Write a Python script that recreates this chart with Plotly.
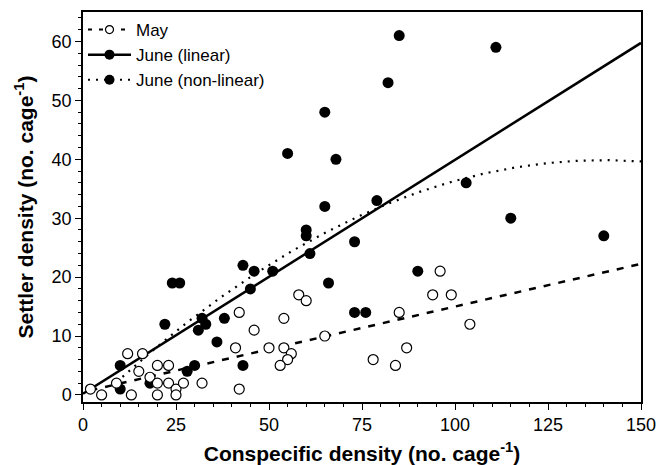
import numpy as np
import plotly.graph_objects as go

# ---- data ----
may_x = [2, 5, 9, 12, 13, 15, 16, 18, 20, 20, 20, 23, 23, 25, 25, 27, 32, 41, 42, 42,
         46, 50, 54, 54, 56, 55, 53, 58, 60, 65, 78, 84, 85, 87, 94, 96, 99, 104]
may_y = [1, 0, 2, 7, 0, 4, 7, 3, 5, 2, 0, 5, 2, 1, 0, 2, 2, 8, 1, 14,
         11, 8, 13, 8, 7, 6, 5, 17, 16, 10, 6, 5, 14, 8, 17, 21, 17, 12]

june_x = [10, 10, 18, 22, 24, 26, 28, 30, 31, 32, 33, 36, 38, 43, 43, 45, 46, 51, 55,
          60, 60, 61, 65, 65, 66, 68, 73, 73, 76, 79, 82, 85, 90, 103, 111, 115, 140]
june_y = [5, 1, 2, 12, 19, 19, 4, 5, 11, 13, 12, 9, 13, 22, 5, 18, 21, 21, 41,
          28, 27, 24, 48, 32, 19, 40, 26, 14, 14, 33, 53, 61, 21, 36, 59, 30, 27]

# fitted model coefficients
may_fit = (0.5, 0.145)                 # intercept, slope
june_lin_fit = (0.2, 0.397)            # intercept, slope
june_nl_fit = (-3.2, 0.615, -0.615 / 280)  # c, b1, b2

x_ticks = [0, 25, 50, 75, 100, 125, 150]
y_ticks = [0, 10, 20, 30, 40, 50, 60]

xm = np.linspace(2, 150, 100)
xl = np.linspace(0, 150, 100)
xn = np.linspace(9, 150, 200)
ym = may_fit[0] + may_fit[1] * xm
yl = june_lin_fit[0] + june_lin_fit[1] * xl
yn = june_nl_fit[0] + june_nl_fit[1] * xn + june_nl_fit[2] * xn ** 2

FONT = "Liberation Sans, Arial, sans-serif"
DASH = "7px,8px"
DOT = "2px,6px"

fig = go.Figure()
# fit lines
fig.add_trace(go.Scatter(x=xm, y=ym, mode="lines", showlegend=False,
                         line=dict(color="black", width=2.5, dash=DASH)))
fig.add_trace(go.Scatter(x=xl, y=yl, mode="lines", showlegend=False,
                         line=dict(color="black", width=2.5)))
fig.add_trace(go.Scatter(x=xn, y=yn, mode="lines", showlegend=False,
                         line=dict(color="black", width=2.2, dash=DOT)))
# data points
fig.add_trace(go.Scatter(x=june_x, y=june_y, mode="markers", showlegend=False,
                         marker=dict(symbol="circle", size=11, color="black",
                                     line=dict(color="black", width=0))))
fig.add_trace(go.Scatter(x=may_x, y=may_y, mode="markers", showlegend=False,
                         marker=dict(symbol="circle", size=10, color="white",
                                     line=dict(color="black", width=1.2))))
# legend entries
fig.add_trace(go.Scatter(x=[None], y=[None], mode="lines+markers", name="May",
                         line=dict(color="black", width=2, dash="4px,7px"),
                         marker=dict(symbol="circle", size=8, color="white",
                                     line=dict(color="black", width=1.2))))
fig.add_trace(go.Scatter(x=[None], y=[None], mode="lines+markers", name="June (linear)",
                         line=dict(color="black", width=2.5),
                         marker=dict(symbol="circle", size=10, color="black")))
fig.add_trace(go.Scatter(x=[None], y=[None], mode="lines+markers", name="June (non-linear)",
                         line=dict(color="black", width=2, dash=DOT),
                         marker=dict(symbol="circle", size=10, color="black")))

axis_common = dict(
    showline=True, linecolor="black", linewidth=1.5, mirror=True,
    ticks="outside", ticklen=6, tickwidth=1, tickcolor="black",
    showgrid=False, zeroline=False, automargin=False,
    tickfont=dict(family=FONT, size=18, color="black"),
)
fig.update_xaxes(range=[0, 150], tickvals=x_ticks, ticktext=[str(v) for v in x_ticks],
                 minor=dict(dtick=5, ticks="outside", ticklen=3, tickcolor="black", showgrid=False),
                 title=dict(text="<b>Conspecific density (no. cage<sup>-1</sup>)</b>",
                            font=dict(family=FONT, size=21, color="black"), standoff=12),
                 **axis_common)
fig.update_yaxes(range=[-1.2, 65], tickvals=y_ticks, ticktext=[str(v) for v in y_ticks],
                 minor=dict(dtick=2, ticks="outside", ticklen=3, tickcolor="black", showgrid=False),
                 title=dict(text="<b>Settler density (no. cage<sup>-1</sup>)</b>",
                            font=dict(family=FONT, size=21, color="black"), standoff=12),
                 **axis_common)

fig.update_layout(
    width=657, height=465,
    margin=dict(l=83, r=16, t=12, b=63, pad=0),
    paper_bgcolor="white", plot_bgcolor="white",
    font=dict(family=FONT, size=18, color="black"),
    legend=dict(x=0.0, y=1.0, xanchor="left", yanchor="top",
                bgcolor="rgba(0,0,0,0)", borderwidth=0,
                font=dict(family=FONT, size=17, color="black"),
                tracegroupgap=0, itemwidth=43),
)

fig.write_html("out.html")
